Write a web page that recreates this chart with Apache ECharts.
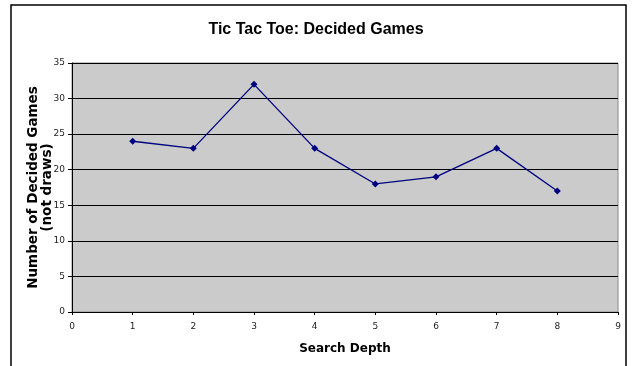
<!DOCTYPE html>
<html>
<head>
<meta charset="utf-8">
<script src="https://cdn.jsdelivr.net/npm/echarts@6/dist/echarts.min.js"></script>
<style>
  html, body { margin: 0; padding: 0; background: #fff; }
  #chart { width: 632px; height: 366px; }
</style>
</head>
<body>
<div id="chart"></div>
<script>
// Search depth vs. number of decided (non-draw) games
const depths = [1, 2, 3, 4, 5, 6, 7, 8];
const decidedGames = [24, 23, 32, 23, 18, 19, 23, 17];

const titleText = 'Tic Tac Toe: Decided Games';
const xTitle = 'Search Depth';
const yTitle = 'Number of Decided Games\n(not draws)';

const font = 'DejaVu Sans, Verdana, sans-serif';

const chart = echarts.init(document.getElementById('chart'), null, { renderer: 'canvas' });

chart.setOption({
  backgroundColor: '#ffffff',
  animation: false,
  title: {
    text: titleText,
    left: 'center',
    top: 17,
    textStyle: { fontFamily: 'Liberation Sans, Arial, sans-serif', fontSize: 16, fontWeight: 'bold', color: '#000' }
  },
  graphic: [{
    type: 'rect',
    shape: { x: 11, y: 5, width: 615, height: 400 },
    style: { fill: 'none', stroke: '#000', lineWidth: 1.5 },
    silent: true
  }],
  grid: {
    left: 72, top: 63, width: 546, height: 249,
    show: true,
    backgroundColor: '#cbcbcb',
    borderColor: '#8a8a8a',
    borderWidth: 1
  },
  xAxis: {
    type: 'value',
    min: 0, max: 9, interval: 1,
    name: xTitle,
    nameLocation: 'middle',
    nameGap: 31,
    nameTextStyle: { fontFamily: font, fontSize: 12, fontWeight: 'bold', color: '#000' },
    axisLine: { lineStyle: { color: '#000', width: 1 } },
    axisTick: { length: 3, lineStyle: { color: '#000' } },
    axisLabel: { fontFamily: font, fontSize: 9, color: '#222', margin: 10 },
    splitLine: { show: false }
  },
  yAxis: {
    type: 'value',
    min: 0, max: 35, interval: 5,
    name: yTitle,
    nameLocation: 'middle',
    nameGap: 18,
    nameMoveOverlap: false,
    nameTextStyle: { fontFamily: font, fontSize: 13.5, fontWeight: 'bold', color: '#000', lineHeight: 14 },
    axisLine: { show: true, lineStyle: { color: '#000', width: 1 } },
    axisTick: { show: true, length: 4, lineStyle: { color: '#000' } },
    axisLabel: { fontFamily: font, fontSize: 9, color: '#222', margin: 7 },
    splitLine: { show: true, lineStyle: { color: '#000', width: 1 } }
  },
  series: [{
    type: 'line',
    data: depths.map((d, i) => [d, decidedGames[i]]),
    symbol: 'diamond',
    symbolSize: 7,
    itemStyle: { color: '#000080' },
    lineStyle: { color: '#000080', width: 1.3 }
  }]
});
</script>
</body>
</html>
